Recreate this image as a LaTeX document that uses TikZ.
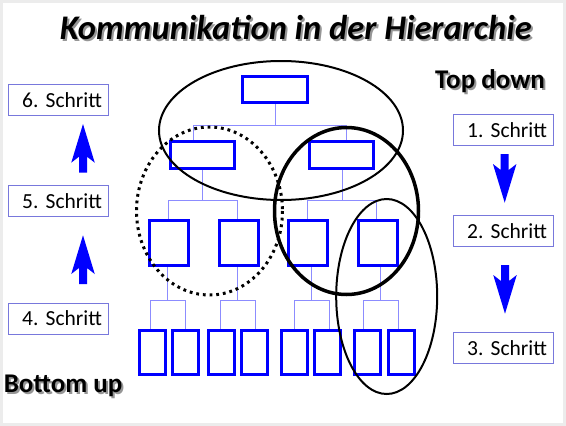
\documentclass[tikz,border=0pt]{standalone}
\usepackage{fontspec}
\setmainfont{Carlito}
\usetikzlibrary{backgrounds}
\frenchspacing
\definecolor{boxblue}{RGB}{0,0,255}
\definecolor{connblue}{RGB}{140,140,255}
\definecolor{stepline}{RGB}{120,120,220}
\definecolor{framegray}{RGB}{236,236,236}
\definecolor{shadowgray}{RGB}{150,150,150}
\begin{document}
\begin{tikzpicture}[x=1pt,y=-1pt,
  orgbox/.style 2 args={draw=boxblue,line width=3pt,inner sep=0pt,minimum width=#1,minimum height=#2},
  conn/.style={draw=connblue,line width=1pt},
  stepbox/.style={draw=stepline,line width=0.9pt,text width=88pt,align=right,inner xsep=6pt,inner ysep=0pt,minimum height=31pt,font=\fontsize{21.5}{24}\selectfont},
  thinring/.style={draw=black,line width=2pt},
  thickring/.style={draw=black,line width=3.5pt},
  dotring/.style={draw=black,line width=3pt,dash pattern=on 2.8pt off 3.9pt},
  titlefont/.style={font=\fontsize{34.5}{40}\selectfont\bfseries\itshape,inner sep=0pt},
  headfont/.style={font=\fontsize{27}{32}\selectfont\bfseries,inner sep=0pt},
  blockarrow/.pic={\fill[boxblue] (-4,0) -- (-4,-16) -- (-11.75,-10) -- (0,-48.7) -- (11.75,-10) -- (4,-16) -- (4,0) -- cycle;}
]
\useasboundingbox (0,0) rectangle (566,426);

% titles with shadow
\node[titlefont,text=shadowgray,anchor=base west] (titleshadow) at (61.6,41) {Kommunikation in der Hierarchie};
\node[titlefont,anchor=base west] (title) at (59.6,39) {Kommunikation in der Hierarchie};
\node[headfont,text=shadowgray,anchor=base west] (topdownshadow) at (437,90.5) {Top down};
\node[headfont,anchor=base west] (topdown) at (435,88.5) {Top down};
\node[headfont,text=shadowgray,anchor=base west] (bottomupshadow) at (5.6,394) {Bottom up};
\node[headfont,anchor=base west] (bottomup) at (3.6,392) {Bottom up};

% org chart boxes
\node[orgbox={65pt}{26pt}] (t) at (275,89.5) {};
\node[orgbox={64pt}{27pt}] (m1) at (202.5,155) {};
\node[orgbox={64pt}{27pt}] (m2) at (341,155) {};
\node[orgbox={39pt}{45pt}] (l3a) at (169,242.8) {};
\node[orgbox={39pt}{45pt}] (l3b) at (238.5,242.8) {};
\node[orgbox={39pt}{45pt}] (l3c) at (308,242.8) {};
\node[orgbox={39pt}{45pt}] (l3d) at (377.5,242.8) {};
\node[orgbox={26pt}{44pt}] (b1) at (152.2,352.5) {};
\node[orgbox={26pt}{44pt}] (b2) at (185.3,352.5) {};
\node[orgbox={26pt}{44pt}] (b3) at (221.8,352.5) {};
\node[orgbox={26pt}{44pt}] (b4) at (254.8,352.5) {};
\node[orgbox={26pt}{44pt}] (b5) at (294.8,352.5) {};
\node[orgbox={26pt}{44pt}] (b6) at (327.5,352.5) {};
\node[orgbox={26pt}{44pt}] (b7) at (367.2,352.5) {};
\node[orgbox={26pt}{44pt}] (b8) at (401.2,352.5) {};

% page frame and connectors behind the boxes
\begin{scope}[on background layer]
\fill[framegray] (0,0) rectangle (566,426);
\fill[white] (3,3) rectangle (563,423);
\draw[conn] (t.south) -- ++(0,21.5) -| ([xshift=-9.5pt]m1.north);
\draw[conn] (t.south) -- ++(0,21.5) -| ([xshift=5pt]m2.north);
\draw[conn] (m1.south) -- ++(0,30.5) -| ([xshift=-1pt]l3a.north);
\draw[conn] (m1.south) -- ++(0,30.5) -| ([xshift=-1.5pt]l3b.north);
\draw[conn] ([xshift=1pt]m2.south) -- ++(0,30.5) -| ([xshift=-1pt]l3c.north);
\draw[conn] ([xshift=1pt]m2.south) -- ++(0,30.5) -| ([xshift=-1pt]l3d.north);
\draw[conn] ([xshift=-1.3pt]l3a.south) -- ++(0,33.7) -| ([xshift=-1.3pt]b1.north);
\draw[conn] ([xshift=-1.3pt]l3a.south) -- ++(0,33.7) -| ([xshift=-0.3pt]b2.north);
\draw[conn] ([xshift=-1.5pt]l3b.south) -- ++(0,33.7) -| ([xshift=-1.1pt]b3.north);
\draw[conn] ([xshift=-1.5pt]l3b.south) -- ++(0,33.7) -| ([xshift=0.2pt]b4.north);
\draw[conn] ([xshift=3.7pt]l3c.south) -- ++(0,33.7) -| ([xshift=-0.8pt]b5.north);
\draw[conn] ([xshift=3.7pt]l3c.south) -- ++(0,33.7) -| ([xshift=1.5pt]b6.north);
\draw[conn] ([xshift=3.2pt]l3d.south) -- ++(0,33.7) -| ([xshift=-4.2pt]b7.north);
\draw[conn] ([xshift=3.2pt]l3d.south) -- ++(0,33.7) -| ([xshift=-3.2pt]b8.north);
\end{scope}

% rings
\draw[thinring] (281,130.5) ellipse [x radius=122, y radius=69.5];
\draw[dotring] (209.5,211) ellipse [x radius=73, y radius=84];
\draw[thickring] (346.5,211) ellipse [x radius=72, y radius=83.5];
\draw[thinring] (386.7,296.5) ellipse [x radius=50.5, y radius=97.5];

% step boxes
\node[stepbox] (s6) at (58,100) {6. Schritt};
\node[stepbox] (s5) at (58,201) {5. Schritt};
\node[stepbox] (s4) at (58,318.5) {4. Schritt};
\node[stepbox] (s1) at (503,130) {1. Schritt};
\node[stepbox] (s2) at (503,231) {2. Schritt};
\node[stepbox] (s3) at (503,348) {3. Schritt};

% arrows
\pic at (83,172.7) {blockarrow};
\pic at (83,284) {blockarrow};
\pic[yscale=-1] at (504.7,154) {blockarrow};
\pic[yscale=-1] at (505,265) {blockarrow};
\end{tikzpicture}
\end{document}
